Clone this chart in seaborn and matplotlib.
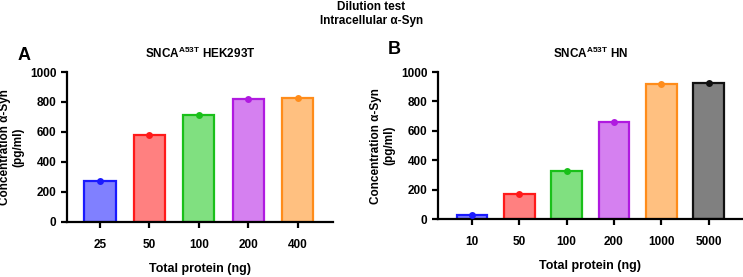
import matplotlib
matplotlib.use("Agg")
import matplotlib.pyplot as plt
import seaborn as sns
import pandas as pd

# Panel A: SNCA A53T HEK293T
a_protein = ["25", "50", "100", "200", "400"]
a_conc = [275, 580, 715, 820, 828]
a_fill = ["#8080ff", "#ff8080", "#80e080", "#d580f0", "#ffc080"]
a_edge = ["#1a1aff", "#ff1a1a", "#1ac01a", "#b01ae0", "#ff8c1a"]

# Panel B: SNCA A53T HN
b_protein = ["10", "50", "100", "200", "1000", "5000"]
b_conc = [28, 172, 325, 658, 918, 925]
b_fill = ["#8080ff", "#ff8080", "#80e080", "#d580f0", "#ffc080", "#808080"]
b_edge = ["#1a1aff", "#ff1a1a", "#1ac01a", "#b01ae0", "#ff8c1a", "#111111"]

sns.set_theme(style="ticks")
plt.rcParams["font.family"] = ["Liberation Sans", "DejaVu Sans"]
plt.rcParams["font.weight"] = "bold"
plt.rcParams["text.color"] = "black"
plt.rcParams["axes.labelcolor"] = "black"
plt.rcParams["xtick.color"] = "black"
plt.rcParams["ytick.color"] = "black"
plt.rcParams["mathtext.fontset"] = "custom"
plt.rcParams["mathtext.bf"] = "Liberation Sans:bold"
plt.rcParams["mathtext.rm"] = "Liberation Sans:bold"

fig = plt.figure(figsize=(7.43, 2.77), dpi=100)
ax_a = fig.add_axes([0.090, 0.199, 0.358, 0.541])
ax_b = fig.add_axes([0.5895, 0.209, 0.41, 0.531])


def draw_panel(ax, protein, conc, fill, edge, width, xlim):
    df = pd.DataFrame({"protein": protein, "conc": conc})
    sns.barplot(data=df, x="protein", y="conc", hue="protein", order=protein,
                hue_order=protein, palette=fill, width=width, legend=False,
                ax=ax, linewidth=1.6, dodge=False, saturation=1)
    for patch, ec in zip(ax.patches, edge):
        patch.set_edgecolor(ec)
    sns.stripplot(data=df, x="protein", y="conc", hue="protein", order=protein,
                  hue_order=protein, palette=edge, jitter=False, size=5,
                  legend=False, ax=ax, zorder=5)
    ax.set_ylim(0, 1000)
    ax.set_xlim(*xlim)
    ax.set_yticks([0, 200, 400, 600, 800, 1000])
    ax.set_xlabel("Total protein (ng)", fontsize=9, fontweight="bold", labelpad=9)
    ax.set_ylabel("Concentration α-Syn\n(pg/ml)", fontsize=8.5, fontweight="bold")
    sns.despine(ax=ax)
    for s in ["left", "bottom"]:
        ax.spines[s].set_linewidth(1.6)
        ax.spines[s].set_color("black")
    ax.tick_params(axis="both", width=1.6, length=4, labelsize=8.5, color="black",
                   labelcolor="black")
    for lab in ax.get_xticklabels() + ax.get_yticklabels():
        lab.set_fontweight("bold")
    ax.tick_params(axis="x", pad=8)


draw_panel(ax_a, a_protein, a_conc, a_fill, a_edge, 0.63, (-0.67, 4.71))
draw_panel(ax_b, b_protein, b_conc, b_fill, b_edge, 0.65, (-0.72, 5.72))

ax_a.set_title(r"SNCA$^{\mathbf{A53T}}$ HEK293T", fontsize=8.5, fontweight="bold", pad=10)
ax_b.set_title(r"SNCA$^{\mathbf{A53T}}$ HN", fontsize=8.5, fontweight="bold", pad=10)

fig.text(0.023, 0.80, "A", fontsize=13, fontweight="bold", va="center")
fig.text(0.522, 0.82, "B", fontsize=13, fontweight="bold", va="center")
fig.text(0.5, 0.95, "Dilution test\nIntracellular α-Syn", ha="center", va="center",
         fontsize=8.5, fontweight="bold", linespacing=1.3)

fig.savefig("out.png", dpi=100)
